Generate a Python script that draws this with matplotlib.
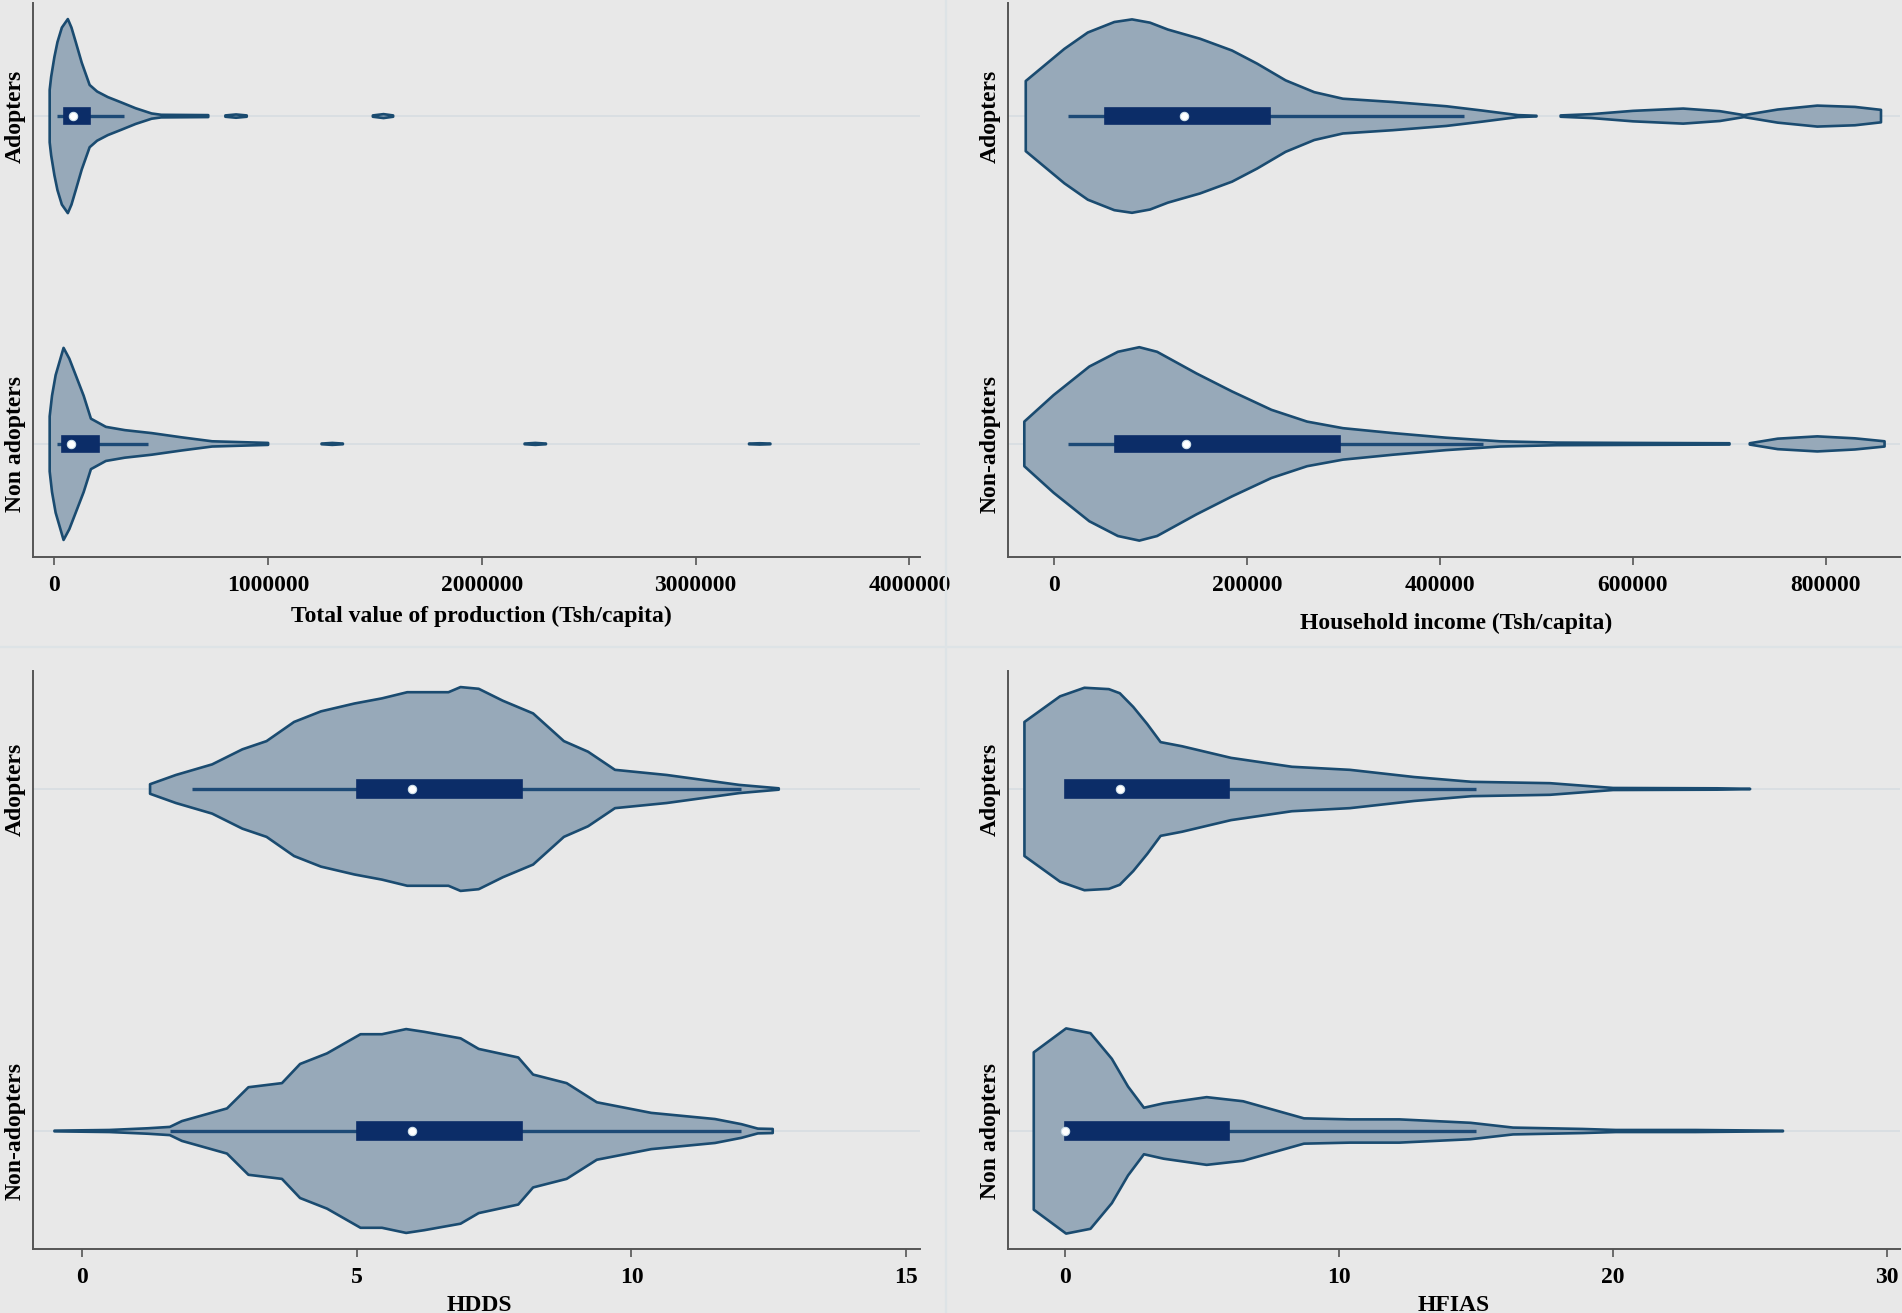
import numpy as np
import matplotlib
matplotlib.use('Agg')
import matplotlib.pyplot as plt
from matplotlib.patches import Rectangle, Polygon
from matplotlib.lines import Line2D

nan = np.nan

# ---------------- data ----------------
# Positions: Adopters = 2, Non adopters = 1
# Panel 1: Total value of production (Tsh/capita)
tvp_labels = ['Non adopters', 'Adopters']
tvp_ticks = [0, 1000000, 2000000, 3000000, 4000000]
tvp_adopt_x = [-22000, -15000, 0, 14500, 35000, 63000, 80000, 100000, 128000, 165000, 200000,
               250000, 312000, 380000, 455000, 500000, 720000, nan,
               800000, 850000, 900000, nan, 1490000, 1540000, 1585000]
tvp_adopt_w = [0.08, 0.12, 0.18, 0.226, 0.27, 0.296, 0.27, 0.226, 0.163, 0.095, 0.075,
               0.058, 0.042, 0.024, 0.008, 0.004, 0.003, nan,
               0.002, 0.005, 0.002, nan, 0.002, 0.006, 0.002]
tvp_non_x = [-22000, -11000, 6000, 43000, 70000, 99700, 137000, 171000, 241000, 330000, 455000,
             596000, 738000, 1000000, nan, 1250000, 1300000, 1350000, nan,
             2200000, 2250000, 2300000, nan, 3250000, 3300000, 3350000]
tvp_non_w = [0.084, 0.147, 0.21, 0.293, 0.26, 0.21, 0.147, 0.077, 0.052, 0.042, 0.033,
             0.02, 0.008, 0.003, nan, 0.001, 0.003, 0.001, nan,
             0.001, 0.003, 0.001, nan, 0.001, 0.002, 0.001]
tvp_box_adopt = [14500, 43000, 85000, 165000, 326000]   # whisker low, q1, median, q3, whisker high
tvp_box_non = [14500, 34000, 77000, 207000, 440000]

# Panel 2: Household income (Tsh/capita)
inc_labels = ['Non-adopters', 'Adopters']
inc_ticks = [0, 200000, 400000, 600000, 800000]
inc_adopt_x = [-29300, 10700, 35000, 62500, 80800, 99500, 118000, 151300, 184500, 210500,
               240000, 269700, 299400, 351200, 406700, 443500, 480700, 500000, nan,
               525000, 557000, 600000, 652000, 690000, 715000,
               750000, 791000, 830000, 857000]
inc_adopt_w = [0.107, 0.205, 0.255, 0.287, 0.295, 0.285, 0.264, 0.236, 0.2, 0.16,
               0.109, 0.073, 0.053, 0.043, 0.03, 0.017, 0.003, 0.001, nan,
               0.002, 0.006, 0.016, 0.023, 0.015, 0.003,
               0.02, 0.032, 0.028, 0.019]
inc_non_x = [-30800, -400, 36600, 66200, 88400, 106800, 147600, 184500, 225300, 262300,
             299400, 351200, 406200, 462000, 521000, 600000, 700000, nan,
             721000, 750000, 791000, 830000, 860700]
inc_non_w = [0.068, 0.149, 0.236, 0.281, 0.295, 0.281, 0.215, 0.16, 0.104, 0.068,
             0.048, 0.033, 0.019, 0.008, 0.004, 0.003, 0.002, nan,
             0.002, 0.016, 0.023, 0.017, 0.008]
inc_box_adopt = [14400, 53300, 134600, 223400, 425000]
inc_box_non = [14400, 63200, 137200, 296400, 445000]

# Panel 3: HDDS
hdds_labels = ['Non-adopters', 'Adopters']
hdds_ticks = [0, 5, 10, 15]
hdds_adopt_x = [1.24, 1.71, 2.37, 2.92, 3.36, 3.86, 4.35, 4.96, 5.46, 5.92, 6.67, 6.89, 7.22,
                7.66, 8.21, 8.77, 9.21, 9.70, 10.64, 11.96, 12.68]
hdds_adopt_w = [0.014, 0.041, 0.072, 0.116, 0.14, 0.196, 0.227, 0.25, 0.265, 0.283, 0.283,
                0.298, 0.293, 0.258, 0.221, 0.14, 0.109, 0.056, 0.041, 0.012, 0.002]
hdds_non_x = [-0.5, 0.5, 1.2, 1.6, 1.82, 2.64, 3.03, 3.64, 3.97, 4.46, 5.07, 5.46, 5.9, 6.23,
              6.89, 7.22, 7.94, 8.21, 8.82, 9.37, 10.36, 11.52, 12.0, 12.3, 12.57]
hdds_non_w = [0.001, 0.003, 0.008, 0.012, 0.029, 0.066, 0.128, 0.14, 0.196, 0.227, 0.283,
              0.283, 0.298, 0.29, 0.271, 0.24, 0.215, 0.165, 0.14, 0.084, 0.053, 0.035,
              0.02, 0.007, 0.006]
hdds_box_adopt = [2, 5, 6, 8, 12]
hdds_box_non = [1.6, 5, 6, 8, 12]

# Panel 4: HFIAS
hfias_labels = ['Non adopters', 'Adopters']
hfias_ticks = [0, 10, 20, 30]
hfias_adopt_x = [-1.48, -0.18, 0.71, 1.6, 2.0, 2.49, 3.0, 3.49, 4.27, 6.06, 8.28, 10.4, 12.74,
                 14.84, 17.7, 20.0, 23.8, 25.0]
hfias_adopt_w = [0.196, 0.271, 0.296, 0.292, 0.28, 0.24, 0.19, 0.137, 0.125, 0.091, 0.065,
                 0.056, 0.035, 0.021, 0.017, 0.003, 0.002, 0.0005]
hfias_non_x = [-1.14, 0.04, 0.93, 1.71, 2.3, 2.88, 3.6, 5.17, 6.5, 8.72, 10.4, 12.2, 14.8,
               16.35, 18.9, 20.1, 23.0, 26.2]
hfias_non_w = [0.23, 0.30, 0.286, 0.211, 0.13, 0.068, 0.081, 0.099, 0.087, 0.037, 0.034,
               0.034, 0.024, 0.01, 0.006, 0.003, 0.003, 0.0008]
hfias_box_adopt = [0, 0, 2, 6, 15]
hfias_box_non = [0, 0, 0, 6, 15]

# ---------------- style ----------------
W, H = 1902, 1313
BG = '#e8e8e8'
FILL = '#97a9b9'
EDGE = '#1a4b70'
NAVY = '#0c2d68'
WHISK = '#1d4a76'
GRID = '#d6dde1'
FONT = 'Liberation Serif'
FS = 17

plt.rcParams['font.family'] = [FONT, 'DejaVu Serif']
plt.rcParams['font.weight'] = 'bold'

fig = plt.figure(figsize=(W / 100, H / 100), dpi=100, facecolor=BG)

# separators between panels
fig.add_artist(Line2D([946 / W, 946 / W], [0, 1], color='#dde3e6', lw=1.6))
fig.add_artist(Line2D([0, 1], [1 - 647 / H, 1 - 647 / H], color='#dde3e6', lw=1.6))


def axes_px(left, right, top, bottom):
    return fig.add_axes([left / W, 1 - bottom / H, (right - left) / W, (bottom - top) / H])


def segments(xs, ws):
    xs = np.asarray(xs, float)
    ws = np.asarray(ws, float)
    seg, out = [], []
    for x, w in zip(xs, ws):
        if np.isnan(x):
            if seg:
                out.append(seg)
            seg = []
        else:
            seg.append((x, w))
    if seg:
        out.append(seg)
    return out


def violin(ax, xs, ws, pos):
    for seg in segments(xs, ws):
        sx = np.array([p[0] for p in seg])
        sw = np.array([p[1] for p in seg])
        upper = np.column_stack([sx, pos + sw])
        lower = np.column_stack([sx[::-1], pos - sw[::-1]])
        poly = Polygon(np.vstack([upper, lower]), closed=True, facecolor=FILL,
                       edgecolor=EDGE, lw=1.9, joinstyle='round', zorder=3)
        ax.add_patch(poly)


def boxplot(ax, stats, pos):
    wlo, q1, med, q3, whi = stats
    ax.plot([wlo, whi], [pos, pos], color=WHISK, lw=2.4, solid_capstyle='butt', zorder=4)
    ax.add_patch(Rectangle((q1, pos - 0.025), q3 - q1, 0.05, facecolor=NAVY,
                           edgecolor=NAVY, lw=1.2, zorder=5))
    ax.plot([med], [pos], 'o', color='white', ms=6, mec='#cfe0ea', mew=0.8, zorder=6)


def setup(ax, xlim, ticks, labels, xlabel, lab_xy):
    ax.set_facecolor('none')
    ax.set_xlim(*xlim)
    ax.set_ylim(0.655, 2.345)
    for s in ['top', 'right']:
        ax.spines[s].set_visible(False)
    for s in ['left', 'bottom']:
        ax.spines[s].set_color('#555555')
        ax.spines[s].set_linewidth(1.4)
    ax.axhline(1, color=GRID, lw=1.2, zorder=1)
    ax.axhline(2, color=GRID, lw=1.2, zorder=1)
    ax.set_xticks(ticks)
    ax.set_xticklabels([str(t) for t in ticks], fontsize=FS, fontweight='bold', family=FONT)
    ax.set_yticks([1, 2])
    ax.set_yticklabels(labels, fontsize=FS, fontweight='bold', family=FONT,
                       rotation=90, va='center')
    ax.tick_params(axis='x', length=6, width=1.2, color='#555555', pad=7)
    ax.tick_params(axis='y', length=0, pad=5)
    ax.set_xlabel(xlabel, fontsize=FS, fontweight='bold', family=FONT, va='center')
    ax.xaxis.set_label_coords(*lab_xy)


# Panel 1
ax1 = axes_px(33, 920, 3, 557)
setup(ax1, (-100000, 4050000), tvp_ticks, tvp_labels,
      'Total value of production (Tsh/capita)', (0.506, -0.108))
violin(ax1, tvp_adopt_x, tvp_adopt_w, 2)
violin(ax1, tvp_non_x, tvp_non_w, 1)
boxplot(ax1, tvp_box_adopt, 2)
boxplot(ax1, tvp_box_non, 1)

# Panel 2
ax2 = axes_px(1008, 1900, 3, 557)
setup(ax2, (-47700, 876700), inc_ticks, inc_labels,
      'Household income (Tsh/capita)', (0.502, -0.119))
violin(ax2, inc_adopt_x, inc_adopt_w, 2)
violin(ax2, inc_non_x, inc_non_w, 1)
boxplot(ax2, inc_box_adopt, 2)
boxplot(ax2, inc_box_non, 1)

# Panel 3
ax3 = axes_px(33, 920, 671, 1249)
setup(ax3, (-0.89, 15.25), hdds_ticks, hdds_labels, 'HDDS', (0.503, -0.097))
violin(ax3, hdds_adopt_x, hdds_adopt_w, 2)
violin(ax3, hdds_non_x, hdds_non_w, 1)
boxplot(ax3, hdds_box_adopt, 2)
boxplot(ax3, hdds_box_non, 1)

# Panel 4
ax4 = axes_px(1008, 1900, 671, 1249)
setup(ax4, (-2.08, 30.47), hfias_ticks, hfias_labels, 'HFIAS', (0.50, -0.097))
violin(ax4, hfias_adopt_x, hfias_adopt_w, 2)
violin(ax4, hfias_non_x, hfias_non_w, 1)
boxplot(ax4, hfias_box_adopt, 2)
boxplot(ax4, hfias_box_non, 1)

fig.savefig('out.png', dpi=100, facecolor=BG)
